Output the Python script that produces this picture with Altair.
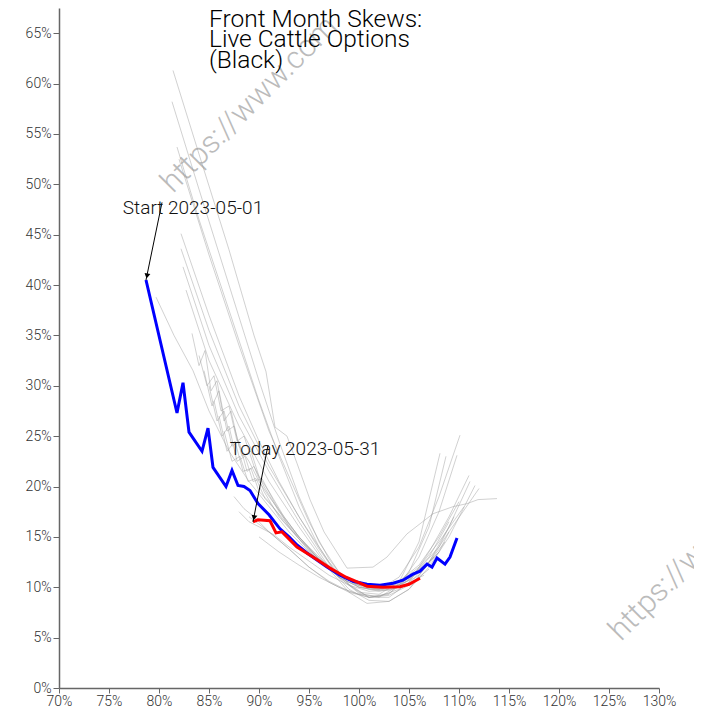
import altair as alt
import pandas as pd

# ---- Start curve (2023-05-01) ----
start_strike = [78.7, 81.8, 82.4, 83.0, 84.3, 84.9, 85.4, 86.7, 87.3, 87.9, 88.5, 89.1, 89.9,
                91.0, 92.1, 93.0, 93.8, 94.8, 96.8, 98.1, 99.4, 100.8, 102.1, 103.4, 104.4,
                105.4, 106.1, 106.8, 107.3, 107.8, 108.6, 109.1, 109.8]
start_vol = [40.5, 27.3, 30.3, 25.4, 23.5, 25.8, 21.9, 20.0, 21.6, 20.1, 20.0, 19.6, 18.3,
             17.2, 15.8, 15.0, 14.2, 13.4, 12.0, 11.2, 10.6, 10.3, 10.2, 10.4, 10.7,
             11.3, 11.6, 12.3, 12.0, 12.9, 12.3, 13.0, 14.9]

# ---- Today curve (2023-05-31) ----
today_strike = [89.4, 89.9, 91.1, 91.7, 92.3, 93.8, 95.4, 97.1, 98.7, 100.8, 102.4, 104.1, 105.0, 106.1]
today_vol = [16.5, 16.7, 16.6, 15.4, 15.5, 14.0, 13.0, 11.9, 11.0, 10.1, 10.0, 10.05, 10.3, 10.9]

# ---- Other days (gray) ----
d0502_x = [79.7, 81.5, 83.4, 85, 87, 89, 91, 93, 95, 97, 99, 101, 103, 105, 107, 109, 112.0]
d0502_y = [38.8, 35.0, 31.5, 27.5, 23.5, 20.5, 18.0, 15.5, 13.5, 12.0, 10.8, 10.2, 10.2, 11.0, 12.5, 15.5, 19.8]
d0503_x = [83.3, 84.0, 84.6, 85.2, 85.8, 86.5, 87.2, 88, 89, 90, 91, 92.5, 94, 96, 98, 100, 102, 104, 106, 108, 110.5]
d0503_y = [35.2, 32.0, 33.5, 29.5, 30.5, 26.5, 27.5, 24.0, 22.5, 20.5, 19.0, 17.0, 15.0, 12.8, 11.2, 10.2, 9.8, 10.5, 12.0, 14.5, 18.0]
d0504_x = [84.0, 84.8, 85.5, 86.2, 87.0, 87.8, 88.5, 89.5, 90.5, 92, 94, 96, 98, 100, 102, 104, 106, 108, 110.0]
d0504_y = [33.0, 30.0, 31.0, 27.5, 28.0, 24.5, 25.0, 22.0, 20.0, 17.5, 15.0, 13.0, 11.3, 10.3, 10.0, 10.6, 12.2, 15.0, 18.5]
d0505_x = [84.5, 85.3, 86.0, 86.8, 87.5, 88.3, 89.2, 90, 91, 92.5, 94, 96, 98, 100, 102, 104, 106, 108, 109.5]
d0505_y = [31.5, 28.0, 29.5, 25.5, 26.0, 23.0, 23.5, 21.0, 19.5, 17.0, 15.0, 12.8, 11.0, 10.0, 9.7, 10.2, 11.8, 14.0, 17.0]
d0508_x = [85.0, 85.8, 86.5, 87.3, 88.0, 88.8, 89.5, 90.5, 92, 94, 96, 98, 100, 102, 104, 106, 108, 109.0]
d0508_y = [30.0, 26.5, 27.5, 24.0, 24.5, 21.5, 22.0, 19.5, 17.0, 14.8, 12.6, 11.0, 10.0, 9.6, 10.0, 11.5, 13.5, 15.5]
d0509_x = [81.4, 84, 87, 89.5, 90.7, 91.6, 92.8, 93.8, 95.1, 96.5, 98.8, 101.4, 102.8, 104.8, 106.1, 107.4, 109.4, 110.8, 111.9, 113.8]
d0509_y = [61.3, 53.0, 43.5, 35.0, 31.4, 25.9, 25.0, 22.3, 18.7, 15.5, 11.9, 12.0, 13.0, 15.3, 16.3, 17.3, 18.0, 18.3, 18.7, 18.8]
d0510_x = [81.3, 84, 87, 90, 92, 94, 96, 98, 100, 102, 104, 106, 108, 110.1]
d0510_y = [58.2, 49.5, 40.0, 30.5, 24.5, 19.0, 14.5, 11.5, 10.0, 9.8, 11.0, 14.0, 19.0, 25.1]
d0511_x = [81.8, 84, 87, 90, 92, 94, 96, 98, 100, 102, 104, 106, 108.1]
d0511_y = [53.7, 46.5, 37.5, 28.5, 23.0, 18.0, 14.0, 11.0, 9.5, 9.3, 10.5, 14.5, 23.3]
d0512_x = [82.0, 85, 88, 91, 93, 95, 97, 99, 101, 103, 105, 107, 108.7]
d0512_y = [52.5, 43.0, 34.0, 25.5, 21.0, 16.5, 12.8, 10.2, 9.0, 9.3, 11.5, 16.0, 23.0]
d0515_x = [82.2, 85, 88, 90, 92, 94, 96, 98, 100, 102, 104, 106, 108, 109.8]
d0515_y = [45.1, 37.0, 29.0, 24.5, 20.5, 17.0, 13.8, 11.0, 9.4, 9.0, 10.2, 13.0, 17.5, 23.1]
d0516_x = [82.2, 85, 88, 91, 94, 97, 99, 101, 103, 105, 107, 109, 111.0]
d0516_y = [43.6, 35.5, 28.0, 22.0, 17.0, 12.5, 10.3, 9.0, 9.0, 10.5, 13.5, 17.0, 21.1]
d0517_x = [82.4, 85, 88, 91, 94, 97, 99, 101, 103, 105, 107, 109, 111.1]
d0517_y = [41.8, 34.0, 27.0, 21.5, 16.5, 12.0, 9.8, 8.7, 8.6, 9.8, 12.5, 16.0, 20.5]
d0518_x = [82.7, 85, 88, 91, 94, 97, 99, 100.8, 103, 105, 107, 109, 111.6]
d0518_y = [39.5, 32.5, 26.0, 20.5, 16.0, 11.8, 9.5, 8.4, 8.6, 9.8, 12.0, 15.0, 20.1]
d0519_x = [85.5, 86.3, 87.0, 87.8, 88.6, 89.4, 90.3, 91.5, 93, 95, 97, 99, 101, 103, 105, 107, 108.6]
d0519_y = [28.5, 25.0, 26.0, 22.5, 23.0, 20.5, 20.8, 18.5, 16.0, 13.6, 11.8, 10.5, 9.8, 9.8, 10.7, 12.5, 14.5]
d0522_x = [86.0, 86.8, 87.6, 88.4, 89.2, 90, 91, 92.5, 94, 96, 98, 100, 102, 104, 106, 107.5]
d0522_y = [27.0, 23.5, 24.5, 21.5, 21.8, 19.5, 18.5, 16.5, 14.8, 12.8, 11.2, 10.2, 9.9, 10.3, 11.6, 13.0]
d0523_x = [86.5, 87.3, 88.1, 88.9, 89.7, 90.6, 91.8, 93.5, 95.5, 97.5, 99.5, 101.5, 103.5, 105.5, 107.0]
d0523_y = [25.5, 22.5, 23.0, 20.5, 20.8, 18.8, 17.5, 15.5, 13.3, 11.6, 10.4, 9.9, 10.0, 10.9, 12.3]
d0524_x = [87.5, 88.5, 89.5, 91, 93, 95, 97, 99, 101, 103, 105, 107]
d0524_y = [19.0, 17.8, 17.0, 15.5, 13.8, 12.0, 10.6, 9.6, 9.0, 9.2, 10.2, 11.8]
d0525_x = [89, 91, 93, 95, 97, 99, 101, 103, 105, 107, 109.0]
d0525_y = [17.0, 15.5, 13.8, 12.0, 10.5, 9.5, 9.0, 9.4, 10.8, 13.0, 16.5]
d0526_x = [88.0, 89, 90, 91.5, 93, 95, 97, 99, 101, 103, 105, 106.5]
d0526_y = [17.5, 16.5, 16.0, 15.2, 14.0, 12.6, 11.2, 10.2, 9.6, 9.7, 10.4, 11.2]
d0530_x = [90, 92, 94, 96, 98, 100, 102, 104, 106, 108.0]
d0530_y = [15.0, 13.5, 12.2, 11.0, 10.0, 9.3, 9.1, 9.8, 11.2, 13.5]

gray_days = {
    "2023-05-02": (d0502_x, d0502_y), "2023-05-03": (d0503_x, d0503_y),
    "2023-05-04": (d0504_x, d0504_y), "2023-05-05": (d0505_x, d0505_y),
    "2023-05-08": (d0508_x, d0508_y), "2023-05-09": (d0509_x, d0509_y),
    "2023-05-10": (d0510_x, d0510_y), "2023-05-11": (d0511_x, d0511_y),
    "2023-05-12": (d0512_x, d0512_y), "2023-05-15": (d0515_x, d0515_y),
    "2023-05-16": (d0516_x, d0516_y), "2023-05-17": (d0517_x, d0517_y),
    "2023-05-18": (d0518_x, d0518_y), "2023-05-19": (d0519_x, d0519_y),
    "2023-05-22": (d0522_x, d0522_y), "2023-05-23": (d0523_x, d0523_y),
    "2023-05-24": (d0524_x, d0524_y), "2023-05-25": (d0525_x, d0525_y),
    "2023-05-26": (d0526_x, d0526_y), "2023-05-30": (d0530_x, d0530_y),
}

title_lines = ["Front Month Skews:", "Live Cattle Options", "(Black)"]
watermark = "https://www.com"

ann_labels = ["Start 2023-05-01", "Today 2023-05-31"]
ann_text_x = [83.4, 94.6]
ann_text_y = [47.1, 23.1]
ann_tail_x = [80.3, 90.9]
ann_tail_y = [48.2, 24.1]

x_ticks = list(range(70, 131, 5))
y_ticks = list(range(0, 66, 5))

# ---- tables ----
rows = []
for day, (xs, ys) in gray_days.items():
    for i, (a, b) in enumerate(zip(xs, ys)):
        rows.append({"day": day, "i": i, "strike": a, "vol": b})
gray_df = pd.DataFrame(rows)
start_df = pd.DataFrame({"i": range(len(start_strike)), "strike": start_strike, "vol": start_vol})
today_df = pd.DataFrame({"i": range(len(today_strike)), "strike": today_strike, "vol": today_vol})
ann_df = pd.DataFrame({
    "label": ann_labels, "tx": ann_text_x, "ty": ann_text_y,
    "ax": ann_tail_x, "ay": ann_tail_y,
    "px": [start_strike[0], today_strike[0]], "py": [start_vol[0], today_vol[0]],
    "angle": [10.5, 11.6],
})

xscale = alt.Scale(domain=[70, 130], nice=False, zero=False)
yscale = alt.Scale(domain=[0, 67.5], nice=False)
xaxis = alt.Axis(values=x_ticks, labelExpr="datum.value + '%'", title=None, tickSize=5,
                 labelPadding=1, labelFlush=False, labelOverlap=False)
yaxis = alt.Axis(values=y_ticks, labelExpr="datum.value + '%'", title=None, tickSize=6,
                 labelPadding=2, labelFlush=False, labelOverlap=False)

X = alt.X("strike:Q", scale=xscale, axis=xaxis)
Y = alt.Y("vol:Q", scale=yscale, axis=yaxis)

gray = alt.Chart(gray_df).mark_line(color="#999999", strokeWidth=1, opacity=0.45).encode(
    x=X, y=Y, detail="day:N", order="i:Q")
start_line = alt.Chart(start_df).mark_line(color="#0000ff", strokeWidth=3).encode(x=X, y=Y, order="i:Q")
today_line = alt.Chart(today_df).mark_line(color="#ff0000", strokeWidth=3).encode(x=X, y=Y, order="i:Q")

arrows = alt.Chart(ann_df).mark_rule(color="black", strokeWidth=1).encode(
    x=alt.X("ax:Q", scale=xscale), y=alt.Y("ay:Q", scale=yscale), x2="px:Q", y2="py:Q")
heads = alt.Chart(ann_df).mark_point(shape="triangle-down", filled=True, color="black",
                                     size=35, opacity=1, yOffset=-4, xOffset=1).encode(
    x=alt.X("px:Q", scale=xscale), y=alt.Y("py:Q", scale=yscale),
    angle=alt.Angle("angle:Q", scale=None))
ann_text = alt.Chart(ann_df).mark_text(font="Roboto", fontWeight=300, fontSize=19, color="#111111",
                                       align="center", baseline="alphabetic").encode(
    x=alt.X("tx:Q", scale=xscale), y=alt.Y("ty:Q", scale=yscale), text="label:N")

wm_df = pd.DataFrame({"t": [watermark, watermark], "wx": [114, 562], "wy": [186, 634]})
wm = alt.Chart(wm_df).mark_text(font="Roboto", fontWeight=300, fontSize=31, color="#bbbbbb",
                                align="left", baseline="alphabetic", angle=315).encode(
    x=alt.X("wx:Q", scale=None), y=alt.Y("wy:Q", scale=None), text="t:N")

title = alt.Chart(pd.DataFrame({"a": [0]})).mark_text(
    text=title_lines, font="Roboto", fontWeight=300, fontSize=24.5, lineHeight=20.5,
    color="black", align="left", baseline="alphabetic").encode(
    x=alt.value(150), y=alt.value(18.5))

chart = alt.layer(wm, gray, start_line, today_line, arrows, heads, ann_text, title).properties(
    width=600, height=680,
    autosize=alt.AutoSizeParams(type="none"),
    padding={"left": 51, "top": 0, "right": 35, "bottom": 19},
).configure_view(stroke=None).configure_axis(
    grid=False, labelFont="Roboto", labelFontWeight=300, labelFontSize=14, labelColor="#333333",
    domainColor="#666666", tickColor="#666666", domainWidth=1.5,
)

chart.save("out.html", embed_options={"renderer": "svg", "actions": False})
